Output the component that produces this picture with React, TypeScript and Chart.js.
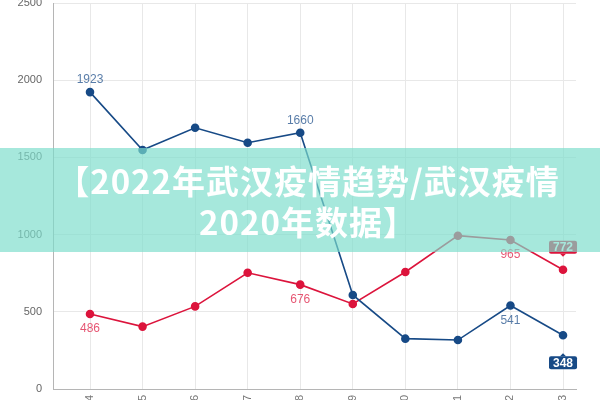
import { useEffect, useRef } from "react";
import { Chart, registerables } from "chart.js";

Chart.register(...registerables);

const categories = ["02-04", "02-05", "02-06", "02-07", "02-08", "02-09", "02-10", "02-11", "02-12", "02-13"];
const blueValues = [1923, 1548, 1692, 1595, 1660, 609, 326, 317, 541, 348];
const redValues = [486, 404, 535, 753, 676, 551, 758, 993, 965, 772];
const yTicks = [0, 500, 1000, 1500, 2000, 2500];

const BLUE = "#174a86";
const RED = "#dc143c";
const xPos = categories.map((_, i) => i + 4);

// which points get a value label, and where
const labelSpecs = [
  { ds: 0, idx: 0, pos: "above" },
  { ds: 0, idx: 4, pos: "above" },
  { ds: 0, idx: 8, pos: "below" },
  { ds: 0, idx: 9, pos: "boxBelow" },
  { ds: 1, idx: 0, pos: "below" },
  { ds: 1, idx: 4, pos: "below" },
  { ds: 1, idx: 8, pos: "below" },
  { ds: 1, idx: 9, pos: "boxAbove" },
];

const valueLabels = {
  id: "valueLabels",
  afterDatasetsDraw(chart: Chart) {
    const ctx = chart.ctx;
    ctx.save();
    ctx.font = "12px 'Liberation Sans', Arial, sans-serif";
    ctx.textAlign = "center";
    ctx.textBaseline = "middle";
    labelSpecs.forEach((s) => {
      const pt = chart.getDatasetMeta(s.ds).data[s.idx];
      if (!pt) return;
      const value = (chart.data.datasets[s.ds].data[s.idx] as any).y;
      const text = String(value);
      const color = s.ds === 0 ? BLUE : RED;
      const x = pt.x;
      const y = pt.y;
      if (s.pos === "above" || s.pos === "below") {
        ctx.fillStyle = s.ds === 0 ? "rgba(23,74,134,0.72)" : "rgba(220,20,60,0.72)";
        ctx.fillText(text, x, s.pos === "above" ? y - 12 : y + 15);
      } else {
        ctx.font = "bold 12px 'Liberation Sans', Arial, sans-serif";
        const w = ctx.measureText(text).width + 8;
        const h = 13;
        const top = s.pos === "boxAbove" ? y - 16 - h : y + 21;
        ctx.fillStyle = color;
        ctx.beginPath();
        ctx.roundRect(x - w / 2, top, w, h, 2);
        ctx.fill();
        ctx.beginPath();
        if (s.pos === "boxAbove") {
          ctx.moveTo(x - 3, top + h);
          ctx.lineTo(x + 3, top + h);
          ctx.lineTo(x, top + h + 3);
        } else {
          ctx.moveTo(x - 3, top);
          ctx.lineTo(x + 3, top);
          ctx.lineTo(x, top - 3);
        }
        ctx.fill();
        ctx.fillStyle = "#fff";
        ctx.fillText(text, x, top + h / 2 + 0.5);
        ctx.font = "12px 'Liberation Sans', Arial, sans-serif";
      }
    });
    ctx.restore();
  },
};

export default function App() {
  const canvasRef = useRef<HTMLCanvasElement>(null);

  useEffect(() => {
    if (!canvasRef.current) return;
    const chart = new Chart(canvasRef.current, {
      type: "line",
      data: {
        datasets: [
          {
            data: blueValues.map((v, i) => ({ x: xPos[i], y: v })),
            borderColor: BLUE,
            backgroundColor: BLUE,
            borderWidth: 1.6,
            pointRadius: 3.5,
            pointHoverRadius: 3.5,
            tension: 0,
          },
          {
            data: redValues.map((v, i) => ({ x: xPos[i], y: v })),
            borderColor: RED,
            backgroundColor: RED,
            borderWidth: 1.6,
            pointRadius: 3.5,
            pointHoverRadius: 3.5,
            tension: 0,
          },
        ],
      },
      options: {
        animation: false,
        responsive: true,
        maintainAspectRatio: false,
        layout: { padding: { top: 23, right: 24, left: 0, bottom: 0 } },
        plugins: { legend: { display: false }, tooltip: { enabled: false } },
        scales: {
          x: {
            type: "linear",
            min: 3.296,
            max: 13.247,
            afterBuildTicks: (scale: any) => {
              scale.ticks = xPos.map((v) => ({ value: v }));
            },
            afterFit: (scale: any) => {
              scale.height = 51;
            },
            grid: { color: "#e8e8e8", drawTicks: false },
            border: { color: "#b5b5b5" },
            ticks: {
              autoSkip: false,
              minRotation: 90,
              maxRotation: 90,
              padding: 6,
              color: "#777",
              font: { family: "'Liberation Sans', Arial, sans-serif", size: 11 },
              callback: (v: any) => categories[Math.round(Number(v)) - 4] ?? "",
            },
          },
          y: {
            min: 0,
            max: 2500,
            afterBuildTicks: (scale: any) => {
              scale.ticks = yTicks.map((v) => ({ value: v }));
            },
            afterFit: (scale: any) => {
              scale.width = 53;
            },
            grid: { color: "#e8e8e8", drawTicks: false },
            border: { color: "#b5b5b5" },
            ticks: {
              padding: 11,
              color: "#666",
              font: { family: "'Liberation Sans', Arial, sans-serif", size: 11 },
              callback: (v: any) => String(v),
            },
          },
        },
      },
      plugins: [valueLabels],
    });
    return () => chart.destroy();
  }, []);

  return (
    <div style={{ position: "fixed", left: 0, top: 0, width: 600, height: 400, overflow: "hidden", background: "#fff" }}>
      <div style={{ position: "absolute", left: 0, top: -20, width: 600, height: 460 }}>
        <canvas ref={canvasRef} />
      </div>
      <div
        style={{
          position: "absolute",
          left: 0,
          top: 148,
          width: 600,
          height: 104,
          boxSizing: "border-box",
          paddingTop: 12,
          paddingLeft: 16,
          background: "rgba(124,221,204,0.68)",
          color: "#fff",
          fontFamily: "'Noto Sans CJK SC', sans-serif",
          fontWeight: 700,
          fontSize: 33,
          letterSpacing: 1,
          lineHeight: "41px",
          textAlign: "center",
          whiteSpace: "nowrap",
        }}
      >
        【2022年武汉疫情趋势/武汉疫情
        <br />
        2020年数据】
      </div>
    </div>
  );
}
